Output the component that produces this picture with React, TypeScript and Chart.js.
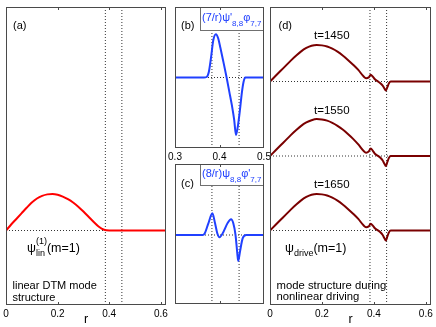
import React, { useEffect, useRef } from "react";
import { Chart, registerables } from "chart.js";

Chart.register(...registerables);

const W = 436;
const H = 327;
const FONT = '"Liberation Sans", Arial, Helvetica, sans-serif';

// ---------- data ----------
// (a) linear DTM mode structure psi_lin^(1)(m=1)
const R_A = [0, 0.02, 0.04, 0.06, 0.08, 0.1, 0.12, 0.14, 0.16, 0.18, 0.2, 0.22, 0.24, 0.26, 0.28, 0.3, 0.32, 0.34, 0.36, 0.38, 0.4, 0.62];
const PSI_LIN = [0, 0.16, 0.31, 0.46, 0.61, 0.75, 0.86, 0.93, 0.97, 0.98, 0.96, 0.91, 0.84, 0.75, 0.64, 0.51, 0.37, 0.23, 0.1, 0.02, 0, 0];

// (b) (7/r) psi'_{8,8} phi_{7,7}
const R_B = [0.3, 0.365, 0.371, 0.376, 0.381, 0.386, 0.392, 0.397, 0.402, 0.409, 0.416, 0.422, 0.428, 0.433, 0.437, 0.441, 0.446, 0.45, 0.454, 0.458, 0.5];
const TERM_B = [0, 0, 0.05, 0.55, 2.0, 3.7, 4.3, 3.9, 2.95, 1.5, 0.0, -1.4, -2.8, -4.2, -5.7, -4.9, -3.2, -1.6, -0.45, 0, 0];

// (c) (8/r) psi_{8,8} phi'_{7,7}
const R_C = [0.3, 0.362, 0.367, 0.375, 0.384, 0.39, 0.395, 0.4, 0.409, 0.418, 0.426, 0.431, 0.436, 0.44, 0.442, 0.446, 0.452, 0.46, 0.5];
const TERM_C = [0, 0, 0.17, 1.17, 2.17, 1.17, 0.17, -0.23, 0.33, 1.17, 1.57, 1.17, 0, -1.83, -2.6, -1.67, -0.33, 0, 0];

// (d) psi_drive(m=1) at three times
const R_D = [0, 0.02, 0.04, 0.06, 0.08, 0.1, 0.12, 0.14, 0.16, 0.18, 0.2, 0.22, 0.24, 0.26, 0.28, 0.3, 0.32, 0.34, 0.36, 0.37, 0.38, 0.388, 0.396, 0.404, 0.414, 0.424, 0.434, 0.44, 0.446, 0.452, 0.458, 0.465, 0.475, 0.62];
const PSI_DRIVE_1450 = [0, 0.14, 0.28, 0.42, 0.56, 0.69, 0.81, 0.9, 0.96, 0.98, 0.97, 0.94, 0.88, 0.8, 0.7, 0.58, 0.45, 0.31, 0.14, 0.09, 0.11, 0.18, 0.13, 0.06, 0.01, -0.04, -0.11, -0.18, -0.24, -0.15, -0.05, 0, 0, 0];
const PSI_DRIVE_1550 = [0, 0.14, 0.28, 0.42, 0.56, 0.69, 0.81, 0.9, 0.96, 0.99, 0.98, 0.95, 0.89, 0.81, 0.71, 0.59, 0.46, 0.31, 0.14, 0.09, 0.12, 0.2, 0.14, 0.06, 0.01, -0.04, -0.12, -0.2, -0.27, -0.16, -0.05, 0, 0, 0];
const PSI_DRIVE_1650 = [0, 0.14, 0.28, 0.42, 0.56, 0.69, 0.81, 0.9, 0.96, 0.98, 0.97, 0.94, 0.88, 0.8, 0.7, 0.58, 0.45, 0.31, 0.14, 0.09, 0.11, 0.18, 0.13, 0.06, 0.01, -0.04, -0.12, -0.2, -0.27, -0.16, -0.05, 0, 0, 0];
const D_OFFSETS = [4, 2, 0];
const TIME_LABELS = ["t=1450", "t=1550", "t=1650"];
const T_LABEL_R = 0.238;

// resonant surfaces (dotted verticals)
const RES_R_WIDE = [0.385, 0.449];
const RES_R_NARROW = [0.383, 0.444];

// axes
const X_TICKS_WIDE = [0, 0.2, 0.4, 0.6];
const X_TICK_LABELS_WIDE = ["0", "0.2", "0.4", "0.6"];
const X_TICKS_NARROW = [0.3, 0.4, 0.5];
const X_TICK_LABELS_NARROW = ["0.3", "0.4", "0.5"];

// ---------- styles ----------
const RED = "#ff0000";
const BLUE = "#2040ff";
const MAROON = "#7a0000";
const DOT = "#333333";
const FRAME = "#4a4a4a";

type Seg = { t: string; size: number; dy?: number; sup?: string };

function drawSegs(ctx: CanvasRenderingContext2D, x: number, y: number, segs: Seg[], color: string) {
  let cx = x;
  ctx.fillStyle = color;
  ctx.textAlign = "left";
  ctx.textBaseline = "alphabetic";
  for (const s of segs) {
    ctx.font = `${s.size}px ${FONT}`;
    ctx.fillText(s.t, cx, y + (s.dy || 0));
    let w = ctx.measureText(s.t).width;
    if (s.sup) {
      ctx.fillText(s.sup, cx, y - 8);
      w = Math.max(w, ctx.measureText(s.sup).width);
    }
    cx += w;
  }
}

function text(ctx: CanvasRenderingContext2D, s: string, x: number, y: number, size = 11, align: CanvasTextAlign = "left", color = "#000") {
  ctx.font = `${size}px ${FONT}`;
  ctx.fillStyle = color;
  ctx.textAlign = align;
  ctx.textBaseline = "alphabetic";
  ctx.fillText(s, x, y);
}

function curve(data: { x: number; y: number }[], color: string, width = 2) {
  return {
    data,
    borderColor: color,
    borderWidth: width,
    pointRadius: 0,
    cubicInterpolationMode: "monotone",
    fill: false,
  };
}

function dotted(data: { x: number; y: number }[]) {
  return {
    data,
    borderColor: DOT,
    borderWidth: 1,
    borderDash: [1, 2],
    pointRadius: 0,
    tension: 0,
    fill: false,
  };
}

function zip(rs: number[], vs: number[], off = 0) {
  return rs.map((r, i) => ({ x: r, y: vs[i] + off }));
}

interface PanelSpec {
  area: [number, number, number, number];
  axisH: number;
  xMin: number;
  xMax: number;
  yMin: number;
  yMax: number;
  xTicks: number[];
  xTickLabels: string[];
  showTickLabels: boolean;
  title?: string;
  datasets: any[];
  decorate: (ctx: CanvasRenderingContext2D, chart: any) => void;
}

function makeDecorPlugin(spec: PanelSpec) {
  return {
    id: "decor",
    afterDatasetsDraw(chart: any) {
      const ctx = chart.ctx as CanvasRenderingContext2D;
      ctx.save();
      spec.decorate(ctx, chart);
      ctx.restore();
    },
    afterDraw(chart: any) {
      const ctx = chart.ctx as CanvasRenderingContext2D;
      const { left, top, right, bottom } = chart.chartArea;
      ctx.save();
      ctx.strokeStyle = FRAME;
      ctx.lineWidth = 1;
      ctx.strokeRect(left + 0.5, top + 0.5, right - left - 1, bottom - top - 1);
      const xs = chart.scales.x;
      ctx.beginPath();
      for (const v of spec.xTicks) {
        const px = Math.round(xs.getPixelForValue(v)) + 0.5;
        if (px <= left + 2 || px >= right - 2) continue;
        ctx.moveTo(px, bottom);
        ctx.lineTo(px, bottom - 3);
        ctx.moveTo(px, top);
        ctx.lineTo(px, top + 3);
      }
      ctx.stroke();
      ctx.restore();
    },
  };
}

function Panel({ spec }: { spec: PanelSpec }) {
  const ref = useRef<HTMLCanvasElement | null>(null);
  useEffect(() => {
    if (!ref.current) return;
    const [l, t, r, b] = spec.area;
    const chart = new Chart(ref.current, {
      type: "line",
      data: { datasets: spec.datasets },
      options: {
        responsive: false,
        animation: false,
        devicePixelRatio: 1,
        events: [],
        layout: { padding: { left: l, top: t, right: W - r, bottom: H - b - spec.axisH } },
        plugins: { legend: { display: false }, tooltip: { enabled: false }, title: { display: false } },
        elements: { point: { radius: 0 } },
        scales: {
          x: {
            type: "linear",
            min: spec.xMin,
            max: spec.xMax,
            display: true,
            afterBuildTicks: (s: any) => {
              s.ticks = spec.xTicks.map((v) => ({ value: v }));
            },
            afterFit: (s: any) => {
              s.height = spec.axisH;
            },
            grid: { display: false, drawTicks: false },
            border: { display: false },
            ticks: {
              display: spec.showTickLabels,
              autoSkip: false,
              maxRotation: 0,
              minRotation: 0,
              padding: 3,
              color: "#000",
              font: { family: FONT, size: 10 },
              callback: (_v: any, i: number) => spec.xTickLabels[i],
            },
            title: {
              display: !!spec.title,
              text: spec.title || "",
              padding: 0,
              color: "#000",
              font: { family: FONT, size: 12.5 },
            },
          },
          y: { type: "linear", min: spec.yMin, max: spec.yMax, display: false },
        },
      } as any,
      plugins: [makeDecorPlugin(spec)],
    });
    return () => chart.destroy();
  }, [spec]);
  return (
    <canvas
      ref={ref}
      width={W}
      height={H}
      style={{ position: "absolute", left: 0, top: 0, width: W, height: H }}
    />
  );
}

const specA: PanelSpec = {
  area: [6, 7, 166, 305],
  axisH: 22,
  xMin: 0,
  xMax: 0.62,
  yMin: -2,
  yMax: 6,
  xTicks: X_TICKS_WIDE,
  xTickLabels: X_TICK_LABELS_WIDE,
  showTickLabels: true,
  title: "r",
  datasets: [
    curve(zip(R_A, PSI_LIN), RED),
    dotted([{ x: 0, y: 0 }, { x: 0.62, y: 0 }]),
    ...RES_R_WIDE.map((r) => dotted([{ x: r, y: -2 }, { x: r, y: 6 }])),
  ],
  decorate: (ctx, ch) => {
    const { left, top } = ch.chartArea;
    text(ctx, "(a)", left + 7, top + 21.5);
    drawSegs(ctx, left + 21, top + 244.5, [
      { t: "ψ", size: 12.5 },
      { t: "lin", size: 9, dy: 4, sup: "(1)" },
      { t: "(m=1)", size: 12.5 },
    ], "#000");
    text(ctx, "linear DTM mode", left + 6.5, top + 282);
    text(ctx, "structure", left + 6.5, top + 294);
  },
};

const specB: PanelSpec = {
  area: [175, 7, 264, 148],
  axisH: 16,
  xMin: 0.3,
  xMax: 0.5,
  yMin: -7,
  yMax: 7,
  xTicks: X_TICKS_NARROW,
  xTickLabels: X_TICK_LABELS_NARROW,
  showTickLabels: true,
  datasets: [
    curve(zip(R_B, TERM_B), BLUE),
    dotted([{ x: 0.3, y: 0 }, { x: 0.5, y: 0 }]),
    ...RES_R_NARROW.map((r) => dotted([{ x: r, y: -7 }, { x: r, y: 7 }])),
  ],
  decorate: (ctx, ch) => {
    const { left, top, right } = ch.chartArea;
    text(ctx, "(b)", left + 6, top + 21.5);
    const bx = left + 25;
    ctx.fillStyle = "#fff";
    ctx.fillRect(bx, top, right - bx, 24);
    ctx.strokeStyle = "#707070";
    ctx.lineWidth = 1;
    ctx.strokeRect(bx + 0.5, top + 0.5, right - bx - 1, 23);
    drawSegs(ctx, bx + 2, top + 13.5, [
      { t: "(7/r)ψ'", size: 11 },
      { t: "8,8", size: 8, dy: 5 },
      { t: "φ", size: 11 },
      { t: "7,7", size: 8, dy: 5 },
    ], BLUE);
  },
};

const specC: PanelSpec = {
  area: [175, 164, 264, 304],
  axisH: 23,
  xMin: 0.3,
  xMax: 0.5,
  yMin: -6.9,
  yMax: 7.1,
  xTicks: X_TICKS_NARROW,
  xTickLabels: X_TICK_LABELS_NARROW,
  showTickLabels: false,
  datasets: [
    curve(zip(R_C, TERM_C), BLUE),
    dotted([{ x: 0.3, y: 0 }, { x: 0.5, y: 0 }]),
    ...RES_R_NARROW.map((r) => dotted([{ x: r, y: -6.9 }, { x: r, y: 7.1 }])),
  ],
  decorate: (ctx, ch) => {
    const { left, top, right } = ch.chartArea;
    text(ctx, "(c)", left + 6, top + 22.5);
    const bx = left + 25;
    ctx.fillStyle = "#fff";
    ctx.fillRect(bx, top, right - bx, 22);
    ctx.strokeStyle = "#707070";
    ctx.lineWidth = 1;
    ctx.strokeRect(bx + 0.5, top + 0.5, right - bx - 1, 21);
    drawSegs(ctx, bx + 2, top + 13, [
      { t: "(8/r)ψ", size: 11 },
      { t: "8,8", size: 8, dy: 5 },
      { t: "φ'", size: 11 },
      { t: "7,7", size: 8, dy: 5 },
    ], BLUE);
  },
};

const D_SERIES = [PSI_DRIVE_1450, PSI_DRIVE_1550, PSI_DRIVE_1650];

const specD: PanelSpec = {
  area: [270, 7, 431, 305],
  axisH: 22,
  xMin: 0,
  xMax: 0.62,
  yMin: -2,
  yMax: 6,
  xTicks: X_TICKS_WIDE,
  xTickLabels: X_TICK_LABELS_WIDE,
  showTickLabels: true,
  title: "r",
  datasets: [
    ...D_SERIES.map((s, k) => curve(zip(R_D, s, D_OFFSETS[k]), MAROON)),
    ...D_OFFSETS.map((o) => dotted([{ x: 0, y: o }, { x: 0.62, y: o }])),
    ...RES_R_WIDE.map((r) => dotted([{ x: r, y: -2 }, { x: r, y: 6 }])),
  ],
  decorate: (ctx, ch) => {
    const { left, top } = ch.chartArea;
    const xs = ch.scales.x;
    const ys = ch.scales.y;
    text(ctx, "(d)", left + 8.5, top + 21.5);
    TIME_LABELS.forEach((lab, k) => {
      text(ctx, lab, xs.getPixelForValue(T_LABEL_R), ys.getPixelForValue(D_OFFSETS[k]) - 42.5, 11.5, "center");
    });
    drawSegs(ctx, left + 15, top + 244.5, [
      { t: "ψ", size: 12.5 },
      { t: "drive", size: 9, dy: 4 },
      { t: "(m=1)", size: 12.5 },
    ], "#000");
    text(ctx, "mode structure during", left + 6.5, top + 282, 11.3);
    text(ctx, "nonlinear driving", left + 6.5, top + 293, 11.3);
  },
};

const SPECS = [specA, specD, specB, specC];

export default function App() {
  return (
    <div style={{ position: "fixed", left: 0, top: 0, width: W, height: H, background: "#fff", overflow: "hidden" }}>
      {SPECS.map((s, i) => (
        <Panel key={i} spec={s} />
      ))}
    </div>
  );
}
